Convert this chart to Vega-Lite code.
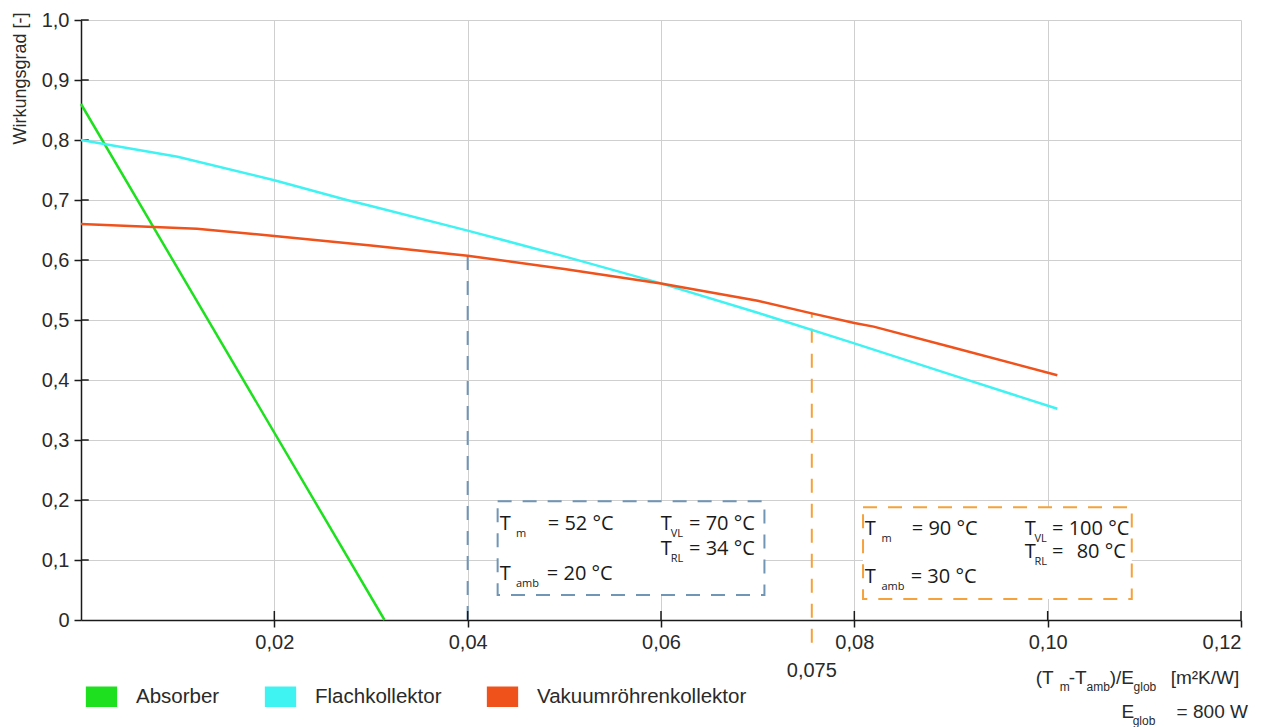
{
  "$schema": "https://vega.github.io/schema/vega-lite/v6.json",
  "width": 1160,
  "height": 600,
  "autosize": {"type": "none"},
  "padding": {"left": 81, "top": 20, "right": 29, "bottom": 107},
  "background": "white",
  "config": {
    "view": {"stroke": null},
    "axis": {
      "domainColor": "#1a1a1a", "domainWidth": 1.5,
      "tickColor": "#1a1a1a", "tickWidth": 1.5, "tickSize": 7,
      "gridColor": "#cfcfcf", "gridWidth": 1,
      "labelFont": "Liberation Sans", "labelFontSize": 20, "labelColor": "#2a2a2a",
      "titleFont": "Liberation Sans", "titleFontSize": 18, "titleFontWeight": "normal", "titleColor": "#2a2a2a"
    }
  },
  "datasets": {
    "curves": [
      {"series": "Absorber", "x": 0, "y": 0.86},
      {"series": "Absorber", "x": 0.0314, "y": 0},
      {"series": "Flachkollektor", "x": 0, "y": 0.800},
      {"series": "Flachkollektor", "x": 0.01, "y": 0.772},
      {"series": "Flachkollektor", "x": 0.02, "y": 0.733},
      {"series": "Flachkollektor", "x": 0.0275, "y": 0.700},
      {"series": "Flachkollektor", "x": 0.03, "y": 0.690},
      {"series": "Flachkollektor", "x": 0.04, "y": 0.649},
      {"series": "Flachkollektor", "x": 0.05, "y": 0.606},
      {"series": "Flachkollektor", "x": 0.06, "y": 0.561},
      {"series": "Flachkollektor", "x": 0.07, "y": 0.512},
      {"series": "Flachkollektor", "x": 0.08, "y": 0.461},
      {"series": "Flachkollektor", "x": 0.09, "y": 0.409},
      {"series": "Flachkollektor", "x": 0.101, "y": 0.352},
      {"series": "Vakuumröhrenkollektor", "x": 0, "y": 0.660},
      {"series": "Vakuumröhrenkollektor", "x": 0.012, "y": 0.652},
      {"series": "Vakuumröhrenkollektor", "x": 0.02, "y": 0.640},
      {"series": "Vakuumröhrenkollektor", "x": 0.03, "y": 0.624},
      {"series": "Vakuumröhrenkollektor", "x": 0.04, "y": 0.607},
      {"series": "Vakuumröhrenkollektor", "x": 0.05, "y": 0.585},
      {"series": "Vakuumröhrenkollektor", "x": 0.06, "y": 0.561},
      {"series": "Vakuumröhrenkollektor", "x": 0.07, "y": 0.532},
      {"series": "Vakuumröhrenkollektor", "x": 0.0756, "y": 0.511},
      {"series": "Vakuumröhrenkollektor", "x": 0.08, "y": 0.495},
      {"series": "Vakuumröhrenkollektor", "x": 0.082, "y": 0.489},
      {"series": "Vakuumröhrenkollektor", "x": 0.09, "y": 0.455},
      {"series": "Vakuumröhrenkollektor", "x": 0.101, "y": 0.408}
    ],
    "boxes": [
      {"box": "blue", "x": 0.0431, "x2": 0.0707, "y": 0.198, "y2": 0.0417},
      {"box": "orange", "x": 0.0809, "x2": 0.1087, "y": 0.188, "y2": 0.035}
    ],
    "markers": [
      {"box": "blue", "x": 0.04, "y": 0, "y2": 0.608},
      {"box": "orange", "x": 0.0756, "y": -0.038, "y2": 0.511}
    ],
    "xticks": [
      {"x": 0.02, "y": 0, "y2": 0.015},
      {"x": 0.04, "y": 0, "y2": 0.015},
      {"x": 0.06, "y": 0, "y2": 0.015},
      {"x": 0.08, "y": 0, "y2": 0.015},
      {"x": 0.10, "y": 0, "y2": 0.015},
      {"x": 0.12, "y": 0, "y2": 0.015}
    ],
    "yticks": [
      {"x": 0, "x2": 0.0008, "y": 0.1},
      {"x": 0, "x2": 0.0008, "y": 0.2},
      {"x": 0, "x2": 0.0008, "y": 0.3},
      {"x": 0, "x2": 0.0008, "y": 0.4},
      {"x": 0, "x2": 0.0008, "y": 0.5},
      {"x": 0, "x2": 0.0008, "y": 0.6},
      {"x": 0, "x2": 0.0008, "y": 0.7},
      {"x": 0, "x2": 0.0008, "y": 0.8},
      {"x": 0, "x2": 0.0008, "y": 0.9},
      {"x": 0, "x2": 0.0008, "y": 1.0}
    ],
    "texts": [
      {"role": "box", "x": 0.04333, "y": 0.150, "text": "T"},
      {"role": "box", "x": 0.04829, "y": 0.150, "text": "= 52 °C"},
      {"role": "box", "x": 0.05998, "y": 0.150, "text": "T"},
      {"role": "box", "x": 0.06290, "y": 0.150, "text": "= 70 °C"},
      {"role": "box", "x": 0.05998, "y": 0.1083, "text": "T"},
      {"role": "box", "x": 0.06290, "y": 0.1083, "text": "= 34 °C"},
      {"role": "box", "x": 0.04333, "y": 0.0667, "text": "T"},
      {"role": "box", "x": 0.04819, "y": 0.0667, "text": "= 20 °C"},
      {"role": "box", "x": 0.08108, "y": 0.1417, "text": "T"},
      {"role": "box", "x": 0.08594, "y": 0.1417, "text": "= 90 °C"},
      {"role": "box", "x": 0.09762, "y": 0.1417, "text": "T"},
      {"role": "box", "x": 0.10045, "y": 0.1417, "text": "= 100 °C"},
      {"role": "box", "x": 0.09762, "y": 0.1033, "text": "T"},
      {"role": "box", "x": 0.10045, "y": 0.1033, "text": "="},
      {"role": "box", "x": 0.10300, "y": 0.1033, "text": "80 °C"},
      {"role": "box", "x": 0.08108, "y": 0.0617, "text": "T"},
      {"role": "box", "x": 0.08583, "y": 0.0617, "text": "= 30 °C"},
      {"role": "boxsub", "x": 0.04500, "y": 0.150, "text": "m"},
      {"role": "boxsub", "x": 0.06100, "y": 0.150, "text": "VL"},
      {"role": "boxsub", "x": 0.06100, "y": 0.1083, "text": "RL"},
      {"role": "boxsub", "x": 0.04500, "y": 0.0667, "text": "amb"},
      {"role": "boxsub", "x": 0.08280, "y": 0.1417, "text": "m"},
      {"role": "boxsub", "x": 0.09864, "y": 0.1417, "text": "VL"},
      {"role": "boxsub", "x": 0.09864, "y": 0.1033, "text": "RL"},
      {"role": "boxsub", "x": 0.08280, "y": 0.0617, "text": "amb"},
      {"role": "axis", "x": 0.09876, "y": -0.1067, "text": "(T"},
      {"role": "axis", "x": 0.10217, "y": -0.1067, "text": "-T"},
      {"role": "axis", "x": 0.10641, "y": -0.1067, "text": ")/E"},
      {"role": "axis", "x": 0.11272, "y": -0.1067, "text": "[m²K/W]"},
      {"role": "axis", "x": 0.10765, "y": -0.1633, "text": "E"},
      {"role": "axis", "x": 0.11334, "y": -0.1633, "text": "= 800 W"},
      {"role": "axissub", "x": 0.10124, "y": -0.1067, "text": "m"},
      {"role": "axissub", "x": 0.10403, "y": -0.1067, "text": "amb"},
      {"role": "axissub", "x": 0.10889, "y": -0.1067, "text": "glob"},
      {"role": "axissub", "x": 0.10879, "y": -0.1633, "text": "glob"},
      {"role": "axiscenter", "x": 0.0756, "y": -0.095, "text": "0,075"}
    ]
  },
  "encoding": {
    "x": {
      "field": "x", "type": "quantitative",
      "scale": {"domain": [0, 0.12], "nice": false, "zero": false},
      "axis": {
        "values": [0.02, 0.04, 0.06, 0.08, 0.1, 0.12],
        "labelExpr": "replace(format(datum.value,'.2f'),'.',',')",
        "title": null, "labelPadding": 5, "grid": true
      }
    },
    "y": {
      "field": "y", "type": "quantitative",
      "scale": {"domain": [0, 1], "nice": false, "zero": false},
      "axis": {
        "values": [0, 0.1, 0.2, 0.3, 0.4, 0.5, 0.6, 0.7, 0.8, 0.9, 1.0],
        "labelExpr": "datum.value == 0 ? '0' : replace(format(datum.value,'.1f'),'.',',')",
        "title": "Wirkungsgrad [-]", "titleAngle": -90, "titleX": -61, "titleY": -8,
        "titleAlign": "right", "titleBaseline": "middle", "labelPadding": 5, "grid": true
      }
    }
  },
  "layer": [
    {
      "data": {"name": "boxes"},
      "mark": {"type": "rect", "fill": "white", "strokeWidth": 2, "strokeDash": [14, 11]},
      "encoding": {
        "x2": {"field": "x2"},
        "y2": {"field": "y2"},
        "stroke": {"field": "box", "type": "nominal", "scale": {"domain": ["blue", "orange"], "range": ["#7095b5", "#f5a23c"]}, "legend": null}
      }
    },
    {
      "data": {"name": "markers"},
      "mark": {"type": "rule", "strokeWidth": 2, "strokeDash": [14, 11]},
      "encoding": {
        "y2": {"field": "y2"},
        "stroke": {"field": "box", "type": "nominal", "scale": {"domain": ["blue", "orange"], "range": ["#7095b5", "#f5a23c"]}, "legend": null}
      }
    },
    {
      "data": {"name": "xticks"},
      "mark": {"type": "rule", "strokeWidth": 1.5, "color": "#1a1a1a"},
      "encoding": {"y2": {"field": "y2"}}
    },
    {
      "data": {"name": "yticks"},
      "mark": {"type": "rule", "strokeWidth": 1.5, "color": "#1a1a1a"},
      "encoding": {"x2": {"field": "x2"}}
    },
    {
      "data": {"name": "curves"},
      "mark": {"type": "line"},
      "encoding": {
        "color": {
          "field": "series", "type": "nominal",
          "scale": {"domain": ["Absorber", "Flachkollektor", "Vakuumröhrenkollektor"], "range": ["#1ee01e", "#40f3f3", "#f0521c"]},
          "legend": {
            "orient": "none", "legendX": 10, "legendY": 666, "direction": "horizontal", "title": null,
            "symbolType": "M-1.6,-1L1.6,-1L1.6,1L-1.6,1Z", "symbolSize": 324, "symbolStrokeWidth": 0,
            "labelFont": "Liberation Sans", "labelFontSize": 20.5, "labelColor": "#2a2a2a", "labelLimit": 400,
            "labelOffset": 24, "columnPadding": 41, "padding": 0,
            "encode": {"symbols": {"update": {"fill": {"scale": "color", "field": "value"}, "fillOpacity": {"value": 1}}}}
          }
        },
        "strokeWidth": {
          "field": "series", "type": "nominal",
          "scale": {"domain": ["Absorber", "Flachkollektor", "Vakuumröhrenkollektor"], "range": [2.5, 2.5, 4]},
          "legend": null
        }
      }
    },
    {
      "data": {"name": "texts"},
      "transform": [{"filter": "datum.role == 'box'"}],
      "mark": {"type": "text", "align": "left", "baseline": "alphabetic", "font": "Open Sans", "fontSize": 20, "color": "#1a1a1a"},
      "encoding": {"text": {"field": "text"}}
    },
    {
      "data": {"name": "texts"},
      "transform": [{"filter": "datum.role == 'boxsub'"}],
      "mark": {"type": "text", "align": "left", "baseline": "alphabetic", "font": "Open Sans", "fontSize": 11, "dy": 7, "color": "#1a1a1a"},
      "encoding": {"text": {"field": "text"}}
    },
    {
      "data": {"name": "texts"},
      "transform": [{"filter": "datum.role == 'axis'"}],
      "mark": {"type": "text", "align": "left", "baseline": "alphabetic", "font": "Liberation Sans", "fontSize": 19, "color": "#2a2a2a"},
      "encoding": {"text": {"field": "text"}}
    },
    {
      "data": {"name": "texts"},
      "transform": [{"filter": "datum.role == 'axissub'"}],
      "mark": {"type": "text", "align": "left", "baseline": "alphabetic", "font": "Liberation Sans", "fontSize": 12, "dy": 7, "color": "#2a2a2a"},
      "encoding": {"text": {"field": "text"}}
    },
    {
      "data": {"name": "texts"},
      "transform": [{"filter": "datum.role == 'axiscenter'"}],
      "mark": {"type": "text", "align": "center", "baseline": "alphabetic", "font": "Liberation Sans", "fontSize": 20, "color": "#2a2a2a"},
      "encoding": {"text": {"field": "text"}}
    }
  ]
}
